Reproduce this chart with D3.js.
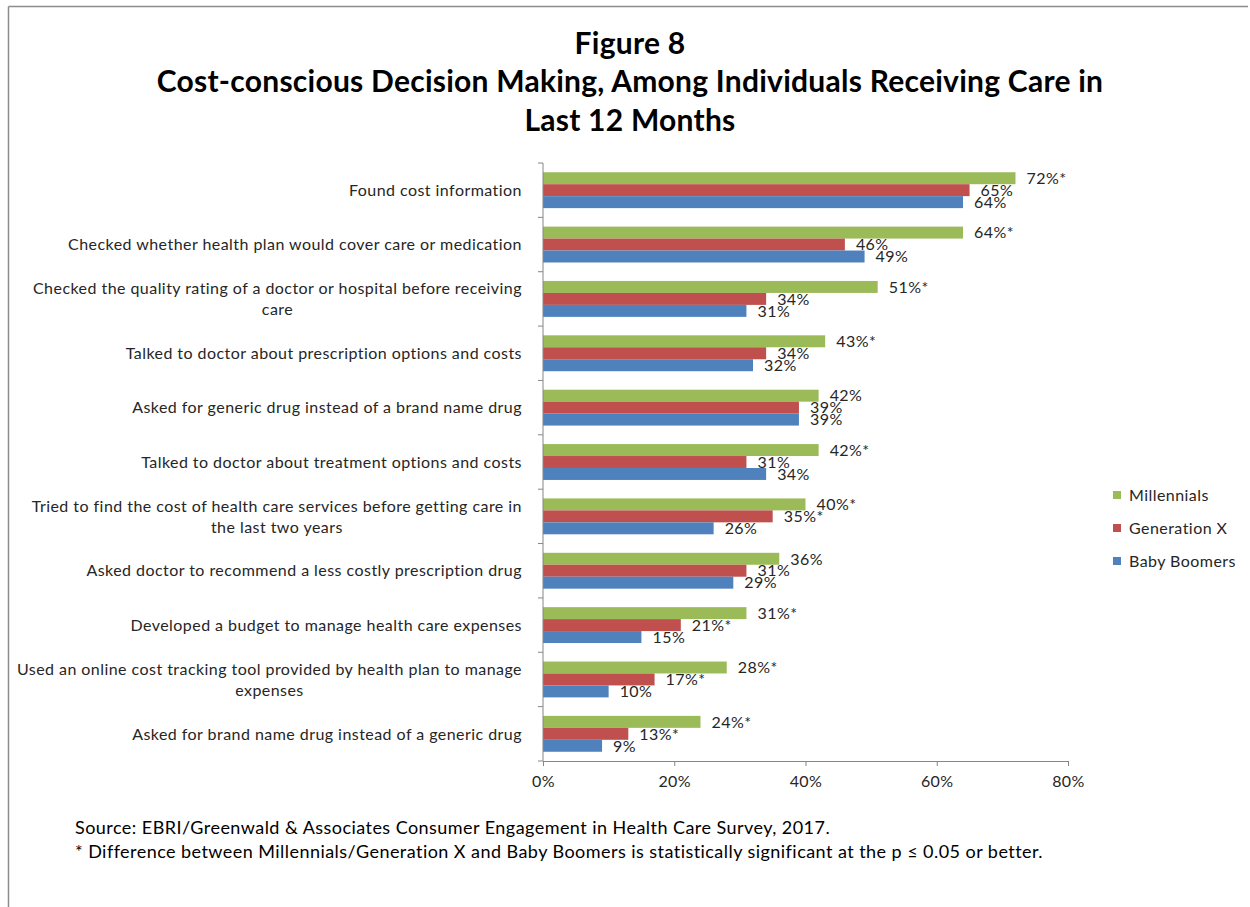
<!DOCTYPE html>
<html>
<head>
<meta charset="utf-8">
<script src="https://cdn.jsdelivr.net/npm/d3@7/dist/d3.min.js"></script>
<style>
  html, body { margin: 0; padding: 0; background: #fff; }
  svg { display: block; font-family: Lato, "Open Sans", sans-serif; }
</style>
</head>
<body>
<svg id="chart" width="1250" height="907"></svg>
<script>
// Survey items (top to bottom)
const categories = [
  ["Found cost information"],
  ["Checked whether health plan would cover care or medication"],
  ["Checked the quality rating of a doctor or hospital before receiving", "care"],
  ["Talked to doctor about prescription options and costs"],
  ["Asked for generic drug instead of a brand name drug"],
  ["Talked to doctor about treatment options and costs"],
  ["Tried to find the cost of health care services before getting care in", "the last two years"],
  ["Asked doctor to recommend a less costly prescription drug"],
  ["Developed a budget to manage health care expenses"],
  ["Used an online cost tracking tool provided by health plan to manage", "expenses"],
  ["Asked for brand name drug instead of a generic drug"]
];

const seriesNames = ["Millennials", "Generation X", "Baby Boomers"];

// Percent of respondents, by generation
const millennials = [72, 64, 51, 43, 42, 42, 40, 36, 31, 28, 24];
const generationX = [65, 46, 34, 34, 39, 31, 35, 31, 21, 17, 13];
const babyBoomers = [64, 49, 31, 32, 39, 34, 26, 29, 15, 10, 9];

// Statistically significant vs. Baby Boomers (marked with *)
const millennialsSig = [1, 1, 1, 1, 0, 1, 1, 0, 1, 1, 1];
const generationXSig = [0, 0, 0, 0, 0, 0, 1, 0, 1, 1, 1];
const babyBoomersSig = [0, 0, 0, 0, 0, 0, 0, 0, 0, 0, 0];

const xTicks = [0, 20, 40, 60, 80];

const titleLines = [
  "Figure 8",
  "Cost-conscious Decision Making, Among Individuals Receiving Care in",
  "Last 12 Months"
];
const footnotes = [
  "Source: EBRI/Greenwald & Associates Consumer Engagement in Health Care Survey, 2017.",
  "* Difference between Millennials/Generation X and Baby Boomers is statistically significant at the p \u2264 0.05 or better."
];

const colors = ["#9BBB59", "#C0504D", "#4F81BD"];
const seriesValues = [millennials, generationX, babyBoomers];
const seriesSig = [millennialsSig, generationXSig, babyBoomersSig];

const svg = d3.select("#chart");
const axisColor = "#868686";
const textColor = "#262626";
const fs = 16, ls = 0.45;   // body text size and tracking

// outer frame (top and left edges)
svg.append("line").attr("x1", 8.5).attr("x2", 1248).attr("y1", 6.5).attr("y2", 6.5)
  .attr("stroke", "#8c8c8c").attr("stroke-width", 1.5);
svg.append("line").attr("x1", 8.5).attr("x2", 8.5).attr("y1", 6.5).attr("y2", 907)
  .attr("stroke", "#8c8c8c").attr("stroke-width", 1.5);

// title
const titleY = [54, 92, 131];
titleLines.forEach((t, i) => {
  svg.append("text").attr("x", 630).attr("y", titleY[i])
    .attr("text-anchor", "middle").attr("font-weight", "bold")
    .attr("font-size", 30).attr("letter-spacing", 0.25).attr("fill", "#000").text(t);
});

// plot area
const x0 = 543, x1 = 1068, yTop = 163, yBot = 761;
const x = d3.scaleLinear().domain([0, 80]).range([x0, x1]);
const y = d3.scaleBand().domain(d3.range(categories.length))
  .range([yTop, yBot]).paddingInner(0.34).paddingOuter(0.17);
const ySub = d3.scaleBand().domain(d3.range(seriesNames.length))
  .range([0, y.bandwidth()]);

// bars
seriesValues.forEach((vals, s) => {
  svg.append("g").selectAll("rect").data(vals).join("rect")
    .attr("x", x(0))
    .attr("y", (d, i) => y(i) + ySub(s))
    .attr("width", d => x(d) - x(0))
    .attr("height", ySub.bandwidth())
    .attr("fill", colors[s]);
});

// value labels
seriesValues.forEach((vals, s) => {
  svg.append("g").selectAll("text").data(vals).join("text")
    .attr("x", d => x(d) + 11)
    .attr("y", (d, i) => y(i) + ySub(s) + ySub.bandwidth() / 2)
    .attr("dy", "0.36em")
    .attr("font-size", fs).attr("letter-spacing", ls).attr("fill", textColor)
    .text((d, i) => d + "%" + (seriesSig[s][i] ? "*" : ""));
});

// x axis
const xAxis = d3.axisBottom(x).tickValues(xTicks).tickFormat(d => d + "%")
  .tickSizeInner(5).tickSizeOuter(0).tickPadding(10);
const gx = svg.append("g").attr("transform", `translate(0,${yBot})`).call(xAxis);
gx.select(".domain").attr("stroke", axisColor);
gx.selectAll(".tick line").attr("stroke", axisColor);
gx.selectAll(".tick text").attr("font-size", fs).attr("letter-spacing", ls)
  .attr("fill", textColor).attr("font-family", "Lato, sans-serif");

// y axis line with ticks at category boundaries
const step = y.step();
svg.append("line").attr("x1", x0).attr("x2", x0).attr("y1", yTop).attr("y2", yBot)
  .attr("stroke", axisColor);
svg.append("g").selectAll("line").data(d3.range(categories.length + 1)).join("line")
  .attr("x1", x0 - 5).attr("x2", x0)
  .attr("y1", i => yTop + i * step).attr("y2", i => yTop + i * step)
  .attr("stroke", axisColor);

// category labels: wrapped lines centred within a right-aligned block
const labelRight = 522;
const lineH = 21;
categories.forEach((lines, i) => {
  const cy = y(i) + y.bandwidth() / 2;
  const g = svg.append("g");
  const texts = lines.map((l, k) => g.append("text")
    .attr("font-size", fs).attr("letter-spacing", ls).attr("fill", textColor)
    .attr("text-anchor", "middle")
    .attr("y", cy + (k - (lines.length - 1) / 2) * lineH)
    .attr("dy", "0.36em").text(l));
  const maxW = d3.max(texts, t => t.node().getComputedTextLength());
  texts.forEach(t => t.attr("x", labelRight - maxW / 2));
});

// legend
const legendY = [495, 528, 561];
seriesNames.forEach((n, s) => {
  svg.append("rect").attr("x", 1113).attr("y", legendY[s] - 4).attr("width", 8).attr("height", 8)
    .attr("fill", colors[s]);
  svg.append("text").attr("x", 1129).attr("y", legendY[s]).attr("dy", "0.36em")
    .attr("font-size", fs).attr("letter-spacing", ls).attr("fill", textColor).text(n);
});

// footnotes
const footY = [834, 858];
footnotes.forEach((t, i) => {
  svg.append("text").attr("x", 75).attr("y", footY[i])
    .attr("font-size", 18).attr("letter-spacing", 0.45).attr("fill", "#000").text(t);
});
</script>
</body>
</html>
